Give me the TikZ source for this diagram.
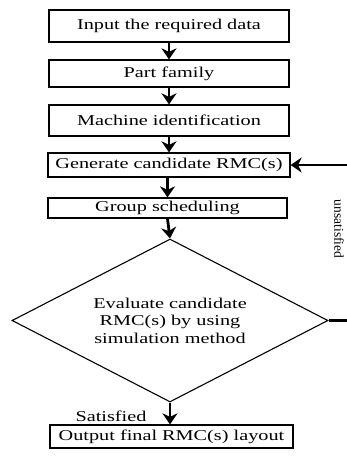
\documentclass[tikz,border=0pt]{standalone}
\usepackage{fontspec}
\setmainfont{Liberation Serif}[FakeStretch=1.35]
\newfontfamily\sidefont{Liberation Serif}
\usetikzlibrary{positioning, arrows.meta, shapes.geometric}

\tikzset{
    stepbox/.style={draw, line width=1.3pt, inner sep=0pt, minimum width=240pt},
    decide/.style={draw, diamond, line width=1.1pt, inner sep=0pt, aspect=1.94,
        align=center, minimum width=316pt, minimum height=163pt},
    flow/.style={line width=2.8pt, -{Stealth[length=11pt, width=15pt, inset=3.5pt]}},
}

\begin{document}
\begin{tikzpicture}[x=1pt, y=-1pt, font=\fontsize{15}{17.5}\selectfont]
    \useasboundingbox (0,0) rectangle (347,459);
    % process steps
    \node[stepbox, minimum height=32pt] (input) at (169,26) {Input the required data};
    \node[stepbox, minimum height=27pt] (family) at (169,73.5) {Part family};
    \node[stepbox, minimum height=31pt] (machine) at (169,120.5) {Machine identification};
    \node[stepbox, minimum height=24pt, minimum width=242pt] (generate) at (169,165) {Generate candidate RMC(s)};
    \node[stepbox, minimum height=20pt, minimum width=239pt] (group) at (167.5,208) {Group scheduling};
    \node[decide] (eval) at (170,320.5) {Evaluate candidate\\RMC(s) by using\\simulation method};
    \node[stepbox, minimum height=23pt, minimum width=243pt] (output) at (171.5,436.5) {Output final RMC(s) layout};
    \node (ok) at (111,416) {Satisfied};
    \node[rotate=-90, font=\sidefont\fontsize{13.5}{15}\selectfont] (notok) at (339,229) {unsatisfied};
    % connectors
    \draw[flow] (input) -- (family);
    \draw[flow] (family) -- (machine);
    \draw[flow] (machine) -- (generate);
    \draw[flow] (generate.south -| group) -- (group);
    \draw[flow] (group.south) -- (eval.north);
    \draw[flow] (eval.south) -- (eval.south |- output.north);
    \coordinate (back) at (352,320.5);
    \draw[flow] (eval.east) -- (back) |- (generate.east);
\end{tikzpicture}
\end{document}
